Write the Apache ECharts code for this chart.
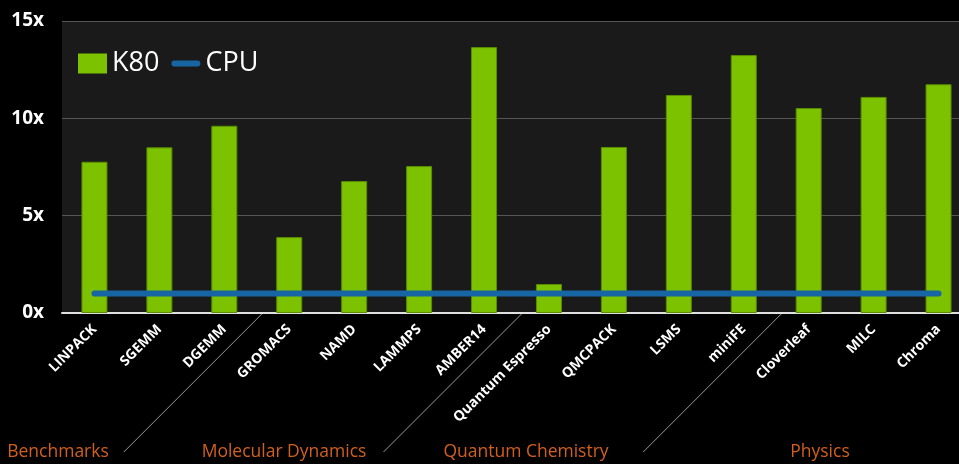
<!DOCTYPE html>
<html>
<head>
<meta charset="utf-8">
<script src="https://cdn.jsdelivr.net/npm/echarts@6/dist/echarts.min.js"></script>
<style>
  html, body { margin: 0; padding: 0; background: #000; }
  #chart { width: 959px; height: 464px; }
</style>
</head>
<body>
<div id="chart"></div>
<script>
var categories = ['LINPACK', 'SGEMM', 'DGEMM', 'GROMACS', 'NAMD', 'LAMMPS', 'AMBER14',
  'Quantum Espresso', 'QMCPACK', 'LSMS', 'miniFE', 'Cloverleaf', 'MILC', 'Chroma']
var k80 = [7.77, 8.51, 9.62, 3.9, 6.78, 7.55, 13.66, 1.49, 8.53, 11.2, 13.25, 10.53, 11.1, 11.75]
var cpu = [1, 1, 1, 1, 1, 1, 1, 1, 1, 1, 1, 1, 1, 1]
var yTicks = [0, 5, 10, 15]
// group name, index of first category in group
var groups = [['Benchmarks', 0], ['Molecular Dynamics', 3], ['Quantum Chemistry', 7], ['Physics', 11]]

var font = 'Open Sans'
var myChart = echarts.init(document.getElementById('chart'))
var option = {
  backgroundColor: '#000',
  textStyle: { fontFamily: font },
  animation: false,
  legend: {
    left: 73,
    top: 45,
    itemWidth: 29,
    itemHeight: 20,
    itemGap: 12,
    textStyle: { color: '#fff', fontSize: 27, fontFamily: font },
    data: [
      { name: 'K80', icon: 'rect', itemStyle: { borderWidth: 0 } },
      { name: 'CPU', icon: 'path://M3,0 H27 A3,3 0 0 1 27,6 H3 A3,3 0 0 1 3,0 Z' }
    ]
  },
  grid: {
    left: 62,
    width: 909,
    top: 21,
    height: 292,
    outerBoundsMode: 'none',
    containLabel: false,
    show: true,
    backgroundColor: '#1a1a1a',
    borderWidth: 0
  },
  xAxis: {
    type: 'category',
    data: categories,
    axisTick: { show: false },
    axisLine: { lineStyle: { color: '#e0e0e0', width: 2 } },
    axisLabel: {
      rotate: 45,
      interval: 0,
      margin: 14,
      color: '#fff',
      fontSize: 14,
      fontWeight: 'bold',
      fontFamily: font
    }
  },
  yAxis: {
    type: 'value',
    min: yTicks[0],
    max: yTicks[yTicks.length - 1],
    interval: 5,
    axisLine: { show: false },
    axisTick: { show: false },
    splitLine: { lineStyle: { color: '#555', width: 1 } },
    axisLabel: {
      color: '#fff',
      fontSize: 19,
      fontWeight: 'bold',
      margin: 18,
      fontFamily: font,
      formatter: '{value}x'
    }
  },
  series: [
    {
      name: 'K80',
      type: 'bar',
      data: k80,
      barWidth: 26,
      itemStyle: { color: '#7cc200', borderColor: '#5a8c00', borderWidth: 1 }
    },
    {
      name: 'CPU',
      type: 'line',
      data: cpu,
      symbol: 'none',
      z: 5,
      color: '#1766a3',
      itemStyle: { color: '#1766a3' },
      lineStyle: { color: '#1766a3', width: 6, cap: 'round' }
    }
  ]
}
myChart.setOption(option)

// separators between groups and group titles, placed from the axis scale
var y0 = myChart.convertToPixel({ yAxisIndex: 0 }, 0)
var graphics = []
var labelX = [58, 284, 526, 820]
groups.forEach(function (g, i) {
  if (g[1] > 0) {
    var a = myChart.convertToPixel({ xAxisIndex: 0 }, g[1] - 1)
    var b = myChart.convertToPixel({ xAxisIndex: 0 }, g[1])
    var x = (a + b) / 2 + 5
    graphics.push({
      type: 'line',
      shape: { x1: x, y1: y0 + 1, x2: x - 138, y2: y0 + 139 },
      style: { stroke: '#9a9a9a', lineWidth: 1 }
    })
  }
  graphics.push({
    type: 'text',
    x: labelX[i],
    y: 452,
    style: {
      text: g[0],
      fill: '#d2601c',
      font: '17.5px "' + font + '"',
      textAlign: 'center',
      textVerticalAlign: 'middle'
    }
  })
})
myChart.setOption({ graphic: graphics })
</script>
</body>
</html>
